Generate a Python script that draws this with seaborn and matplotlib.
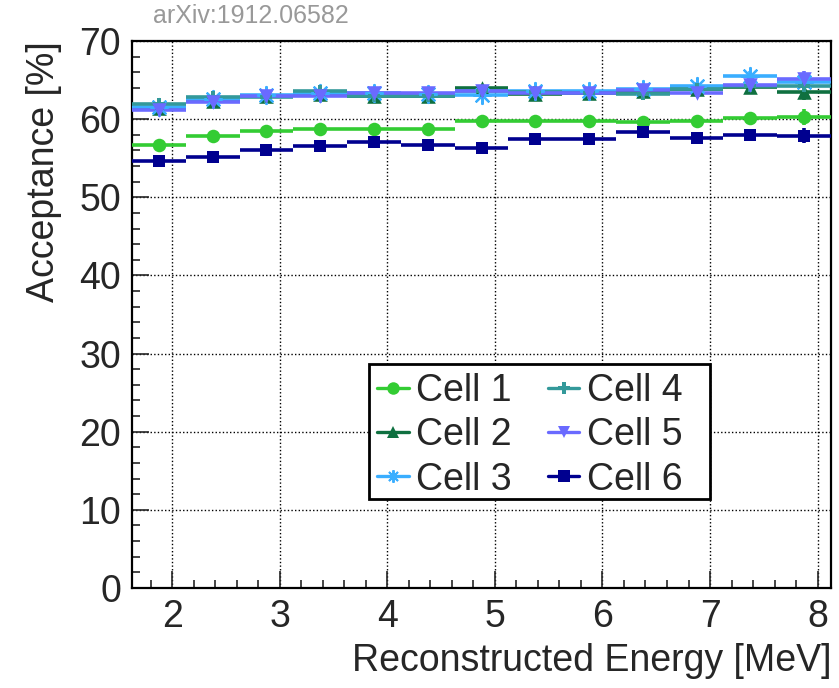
import matplotlib
matplotlib.use("Agg")
import matplotlib.pyplot as plt
from matplotlib.lines import Line2D
from matplotlib.patches import Rectangle
from matplotlib.ticker import MultipleLocator
import numpy as np
import pandas as pd
import seaborn as sns

# Bin centres of reconstructed energy [MeV] (0.5 MeV bins)
energy = [1.875, 2.375, 2.875, 3.375, 3.875, 4.375, 4.875,
          5.375, 5.875, 6.375, 6.875, 7.375, 7.875]
bin_half_width = 0.25

cells = ["Cell 1", "Cell 2", "Cell 3", "Cell 4", "Cell 5", "Cell 6"]

# Acceptance [%] per cell
cell1 = [56.7, 57.9, 58.5, 58.7, 58.7, 58.7, 59.8, 59.7, 59.7, 59.6, 59.8, 60.1, 60.3]
cell2 = [61.4, 62.3, 62.9, 63.2, 63.0, 63.0, 64.0, 63.2, 63.4, 63.6, 63.9, 64.1, 63.5]
cell3 = [61.6, 62.6, 63.1, 63.3, 63.4, 63.2, 63.1, 63.6, 63.6, 63.8, 64.2, 65.5, 64.8]
cell4 = [61.9, 62.8, 62.8, 63.6, 63.0, 63.0, 63.6, 63.5, 63.3, 63.2, 63.9, 64.2, 64.3]
cell5 = [61.2, 62.2, 63.0, 63.0, 63.3, 63.3, 63.6, 63.4, 63.3, 63.7, 63.4, 64.4, 65.1]
cell6 = [54.6, 55.2, 56.1, 56.6, 57.1, 56.7, 56.3, 57.4, 57.4, 58.3, 57.6, 58.0, 57.9]

# Statistical uncertainty [%] per bin
acc_err = [0.2, 0.2, 0.2, 0.25, 0.25, 0.3, 0.3, 0.35, 0.4, 0.45, 0.55, 0.7, 1.0]

values = [cell1, cell2, cell3, cell4, cell5, cell6]
colors = ["#33cc33", "#0f7040", "#3aaeff", "#33999a", "#6a6aff", "#00008f"]
markers = ["o", "^", (8, 2, 0), "P", "v", "s"]
msizes = [95, 110, 150, 70, 110, 85]

df = pd.DataFrame({
    "energy": np.tile(energy, len(cells)),
    "acceptance": np.concatenate(values),
    "cell": np.repeat(cells, len(energy)),
})

sns.set_theme(style="ticks")
plt.rcParams["font.family"] = ["Liberation Sans", "DejaVu Sans"]

fig = plt.figure(figsize=(8.39, 6.88), dpi=100)
ax = fig.add_axes([132 / 839, 1 - 588 / 688, (831 - 132) / 839, (588 - 41) / 688])

# Horizontal bin-width bars and vertical error bars
for vals, col in zip(values, colors):
    ax.errorbar(energy, vals, xerr=bin_half_width, yerr=acc_err, fmt="none",
                ecolor=col, elinewidth=2.6, capsize=0, zorder=3)

# Markers
for name, col, mk, ms in zip(cells, colors, markers, msizes):
    sub = df[df["cell"] == name]
    lw = 1.6 if mk == (8, 2, 0) else 0
    sns.scatterplot(data=sub, x="energy", y="acceptance", ax=ax, color=col,
                    marker=mk, s=ms, linewidth=lw, edgecolor=col,
                    legend=False, zorder=4)

ax.set_xlim(1.625, 8.125)
ax.set_ylim(0, 70)
ax.xaxis.set_major_locator(MultipleLocator(1))
ax.xaxis.set_minor_locator(MultipleLocator(0.2))
ax.yaxis.set_major_locator(MultipleLocator(10))
ax.yaxis.set_minor_locator(MultipleLocator(2))

ax.grid(True, which="major", color="black", linestyle=(0, (1, 1.6)), linewidth=1.0)
ax.set_axisbelow(True)

for sp in ax.spines.values():
    sp.set_linewidth(1.6)
    sp.set_color("black")

ax.tick_params(axis="both", which="major", direction="in", length=12, width=1.2,
               labelsize=27, pad=8, top=False, right=False)
ax.tick_params(axis="both", which="minor", direction="in", length=6, width=1.2,
               top=False, right=False)

ax.set_xlabel("Reconstructed Energy [MeV]", fontsize=27, loc="right", labelpad=6)
ax.set_ylabel("Acceptance [%]", fontsize=27, loc="top", labelpad=12)

# Legend box
box = Rectangle((0.339, 0.163), 0.488, 0.247, transform=ax.transAxes,
                facecolor="white", edgecolor="black", linewidth=2.0, zorder=5)
ax.add_patch(box)

handles = [
    Line2D([0], [0], color=col, lw=2.4, marker=mk,
           markersize=(9 if mk != "P" else 8),
           markeredgewidth=(1.4 if mk == (8, 2, 0) else 0),
           markeredgecolor=col, markerfacecolor=col)
    for col, mk in zip(colors, markers)
]
leg = ax.legend(handles, cells, ncol=2, fontsize=27, frameon=False,
                loc="upper left", bbox_to_anchor=(0.3505, 0.393),
                handlelength=0.85, handletextpad=0.2,
                columnspacing=0.95, labelspacing=0.22, borderpad=0,
                borderaxespad=0)
leg.set_zorder(6)

fig.text(153 / 839, 1 - 16 / 688, "arXiv:1912.06582", color="#999999",
         fontsize=18, ha="left", va="center")

fig.savefig("out.png", dpi=100)
